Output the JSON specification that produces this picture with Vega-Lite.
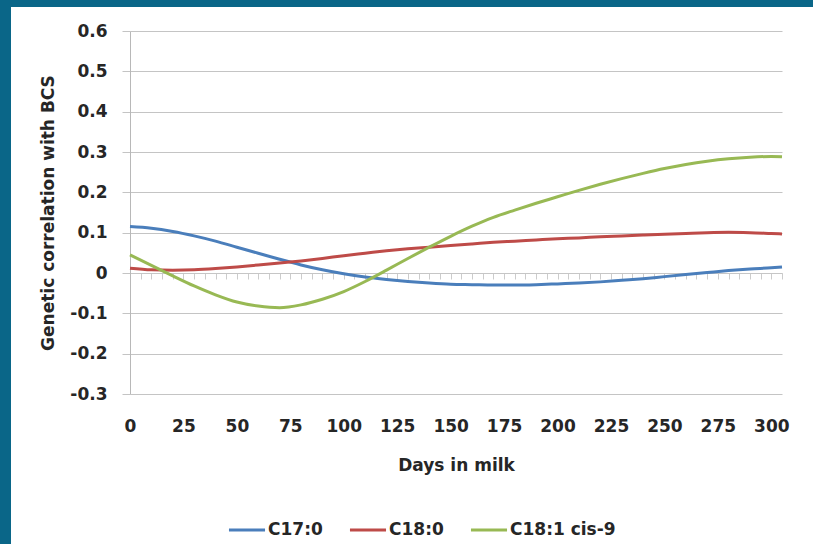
{
  "$schema": "https://vega.github.io/schema/vega-lite/v6.json",
  "width": 802,
  "height": 537,
  "autosize": {"type": "none"},
  "padding": {"left": 11, "top": 7, "right": 0, "bottom": 0},
  "background": "#0a6688",
  "config": {
    "view": {"fill": "white", "stroke": null},
    "font": "DejaVu Sans"
  },
  "datasets": {
    "curves": [
      {"day": 0, "series": "C17:0", "value": 0.115},
      {"day": 10, "series": "C17:0", "value": 0.111},
      {"day": 20, "series": "C17:0", "value": 0.103},
      {"day": 30, "series": "C17:0", "value": 0.092},
      {"day": 40, "series": "C17:0", "value": 0.079},
      {"day": 50, "series": "C17:0", "value": 0.064},
      {"day": 60, "series": "C17:0", "value": 0.049},
      {"day": 70, "series": "C17:0", "value": 0.034},
      {"day": 80, "series": "C17:0", "value": 0.020},
      {"day": 90, "series": "C17:0", "value": 0.008},
      {"day": 100, "series": "C17:0", "value": -0.002},
      {"day": 110, "series": "C17:0", "value": -0.010},
      {"day": 120, "series": "C17:0", "value": -0.016},
      {"day": 130, "series": "C17:0", "value": -0.021},
      {"day": 140, "series": "C17:0", "value": -0.025},
      {"day": 150, "series": "C17:0", "value": -0.028},
      {"day": 160, "series": "C17:0", "value": -0.029},
      {"day": 170, "series": "C17:0", "value": -0.030},
      {"day": 180, "series": "C17:0", "value": -0.030},
      {"day": 190, "series": "C17:0", "value": -0.029},
      {"day": 200, "series": "C17:0", "value": -0.027},
      {"day": 210, "series": "C17:0", "value": -0.025},
      {"day": 220, "series": "C17:0", "value": -0.022},
      {"day": 230, "series": "C17:0", "value": -0.018},
      {"day": 240, "series": "C17:0", "value": -0.014},
      {"day": 250, "series": "C17:0", "value": -0.009},
      {"day": 260, "series": "C17:0", "value": -0.004},
      {"day": 270, "series": "C17:0", "value": 0.001},
      {"day": 280, "series": "C17:0", "value": 0.006},
      {"day": 290, "series": "C17:0", "value": 0.010},
      {"day": 300, "series": "C17:0", "value": 0.013},
      {"day": 305, "series": "C17:0", "value": 0.015},
      {"day": 0, "series": "C18:0", "value": 0.012},
      {"day": 10, "series": "C18:0", "value": 0.008},
      {"day": 20, "series": "C18:0", "value": 0.007},
      {"day": 30, "series": "C18:0", "value": 0.008},
      {"day": 40, "series": "C18:0", "value": 0.011},
      {"day": 50, "series": "C18:0", "value": 0.015},
      {"day": 60, "series": "C18:0", "value": 0.020},
      {"day": 70, "series": "C18:0", "value": 0.025},
      {"day": 80, "series": "C18:0", "value": 0.030},
      {"day": 90, "series": "C18:0", "value": 0.036},
      {"day": 100, "series": "C18:0", "value": 0.043},
      {"day": 110, "series": "C18:0", "value": 0.049},
      {"day": 120, "series": "C18:0", "value": 0.055},
      {"day": 130, "series": "C18:0", "value": 0.060},
      {"day": 140, "series": "C18:0", "value": 0.064},
      {"day": 150, "series": "C18:0", "value": 0.068},
      {"day": 160, "series": "C18:0", "value": 0.072},
      {"day": 170, "series": "C18:0", "value": 0.076},
      {"day": 180, "series": "C18:0", "value": 0.079},
      {"day": 190, "series": "C18:0", "value": 0.082},
      {"day": 200, "series": "C18:0", "value": 0.085},
      {"day": 210, "series": "C18:0", "value": 0.087},
      {"day": 220, "series": "C18:0", "value": 0.090},
      {"day": 230, "series": "C18:0", "value": 0.092},
      {"day": 240, "series": "C18:0", "value": 0.094},
      {"day": 250, "series": "C18:0", "value": 0.096},
      {"day": 260, "series": "C18:0", "value": 0.098},
      {"day": 270, "series": "C18:0", "value": 0.100},
      {"day": 280, "series": "C18:0", "value": 0.101},
      {"day": 290, "series": "C18:0", "value": 0.100},
      {"day": 300, "series": "C18:0", "value": 0.098},
      {"day": 305, "series": "C18:0", "value": 0.097},
      {"day": 0, "series": "C18:1 cis-9", "value": 0.045},
      {"day": 10, "series": "C18:1 cis-9", "value": 0.019},
      {"day": 20, "series": "C18:1 cis-9", "value": -0.007},
      {"day": 30, "series": "C18:1 cis-9", "value": -0.032},
      {"day": 40, "series": "C18:1 cis-9", "value": -0.054},
      {"day": 50, "series": "C18:1 cis-9", "value": -0.072},
      {"day": 60, "series": "C18:1 cis-9", "value": -0.082},
      {"day": 70, "series": "C18:1 cis-9", "value": -0.086},
      {"day": 80, "series": "C18:1 cis-9", "value": -0.079},
      {"day": 90, "series": "C18:1 cis-9", "value": -0.065},
      {"day": 100, "series": "C18:1 cis-9", "value": -0.046},
      {"day": 110, "series": "C18:1 cis-9", "value": -0.021},
      {"day": 120, "series": "C18:1 cis-9", "value": 0.007},
      {"day": 130, "series": "C18:1 cis-9", "value": 0.036},
      {"day": 140, "series": "C18:1 cis-9", "value": 0.064},
      {"day": 150, "series": "C18:1 cis-9", "value": 0.091},
      {"day": 160, "series": "C18:1 cis-9", "value": 0.116},
      {"day": 170, "series": "C18:1 cis-9", "value": 0.138},
      {"day": 180, "series": "C18:1 cis-9", "value": 0.156},
      {"day": 190, "series": "C18:1 cis-9", "value": 0.173},
      {"day": 200, "series": "C18:1 cis-9", "value": 0.189},
      {"day": 210, "series": "C18:1 cis-9", "value": 0.205},
      {"day": 220, "series": "C18:1 cis-9", "value": 0.220},
      {"day": 230, "series": "C18:1 cis-9", "value": 0.234},
      {"day": 240, "series": "C18:1 cis-9", "value": 0.247},
      {"day": 250, "series": "C18:1 cis-9", "value": 0.259},
      {"day": 260, "series": "C18:1 cis-9", "value": 0.269},
      {"day": 270, "series": "C18:1 cis-9", "value": 0.277},
      {"day": 280, "series": "C18:1 cis-9", "value": 0.283},
      {"day": 290, "series": "C18:1 cis-9", "value": 0.287},
      {"day": 300, "series": "C18:1 cis-9", "value": 0.289},
      {"day": 305, "series": "C18:1 cis-9", "value": 0.288}
    ]
  },
  "data": {"name": "curves"},
  "layer": [
    {
      "mark": {"type": "tick", "opacity": 0},
      "encoding": {
        "x": {
          "field": "day",
          "type": "quantitative",
          "scale": {"domain": [0, 305], "range": [119, 771], "nice": false, "zero": false},
          "axis": {
            "orient": "bottom",
            "offset": -271,
            "values": [0,5,10,15,20,25,30,35,40,45,50,55,60,65,70,75,80,85,90,95,100,105,110,115,120,125,130,135,140,145,150,155,160,165,170,175,180,185,190,195,200,205,210,215,220,225,230,235,240,245,250,255,260,265,270,275,280,285,290,295,300,305],
            "labels": false,
            "grid": false,
            "title": null,
            "domain": true,
            "domainColor": "#c6c6c6",
            "ticks": true,
            "tickSize": 6,
            "tickColor": "#cccccc"
          }
        }
      }
    },
    {
      "mark": {"type": "line", "strokeWidth": 3, "interpolate": "monotone"},
      "encoding": {
        "x": {
          "field": "day",
          "type": "quantitative",
          "scale": {"domain": [0, 305], "range": [119, 771], "nice": false, "zero": false},
          "axis": {
            "orient": "bottom",
            "offset": -150,
            "values": [0, 25, 50, 75, 100, 125, 150, 175, 200, 225, 250, 275, 300],
            "grid": false,
            "domain": false,
            "ticks": false,
            "labelFlush": false,
            "labelOverlap": false,
            "labelPadding": 24,
            "labelFont": "DejaVu Sans",
            "labelFontSize": 17,
            "labelFontWeight": "bold",
            "labelColor": "#262626",
            "title": "Days in milk",
            "titleFont": "DejaVu Sans",
            "titleFontSize": 17,
            "titleFontWeight": "bold",
            "titleColor": "#262626",
            "titlePadding": 23
          }
        },
        "y": {
          "field": "value",
          "type": "quantitative",
          "scale": {"domain": [-0.3, 0.6], "range": [387, 24], "nice": false, "zero": false},
          "axis": {
            "orient": "left",
            "offset": -119,
            "values": [-0.3, -0.2, -0.1, 0, 0.1, 0.2, 0.3, 0.4, 0.5, 0.6],
            "labelExpr": "replace(format(datum.value, '.1~f'), '\u2212', '-')",
            "grid": true,
            "gridColor": "#c4c4c4",
            "gridWidth": 1,
            "domain": true,
            "domainColor": "#b8b8b8",
            "ticks": true,
            "tickSize": 8,
            "tickColor": "#c4c4c4",
            "labelFlush": false,
            "labelOverlap": false,
            "labelPadding": 15,
            "labelFont": "DejaVu Sans",
            "labelFontSize": 17,
            "labelFontWeight": "bold",
            "labelColor": "#262626",
            "title": "Genetic correlation with BCS",
            "titleFont": "DejaVu Sans",
            "titleFontSize": 17,
            "titleFontWeight": "bold",
            "titleColor": "#262626",
            "titlePadding": 12
          }
        },
        "color": {
          "field": "series",
          "type": "nominal",
          "scale": {
            "domain": ["C17:0", "C18:0", "C18:1 cis-9"],
            "range": ["#4a7ebb", "#be4b48", "#98b954"]
          },
          "legend": {
            "orient": "none",
            "legendX": 216,
            "legendY": 503,
            "direction": "horizontal",
            "title": null,
            "padding": 0,
            "symbolType": "stroke",
            "symbolSize": 1300,
            "symbolStrokeWidth": 3,
            "labelFont": "DejaVu Sans",
            "labelFontSize": 17,
            "labelFontWeight": "bold",
            "labelColor": "#262626",
            "labelOffset": 1,
            "labelLimit": 300,
            "columnPadding": 20
          }
        }
      }
    }
  ],
  "resolve": {"axis": {"x": "independent"}}
}
